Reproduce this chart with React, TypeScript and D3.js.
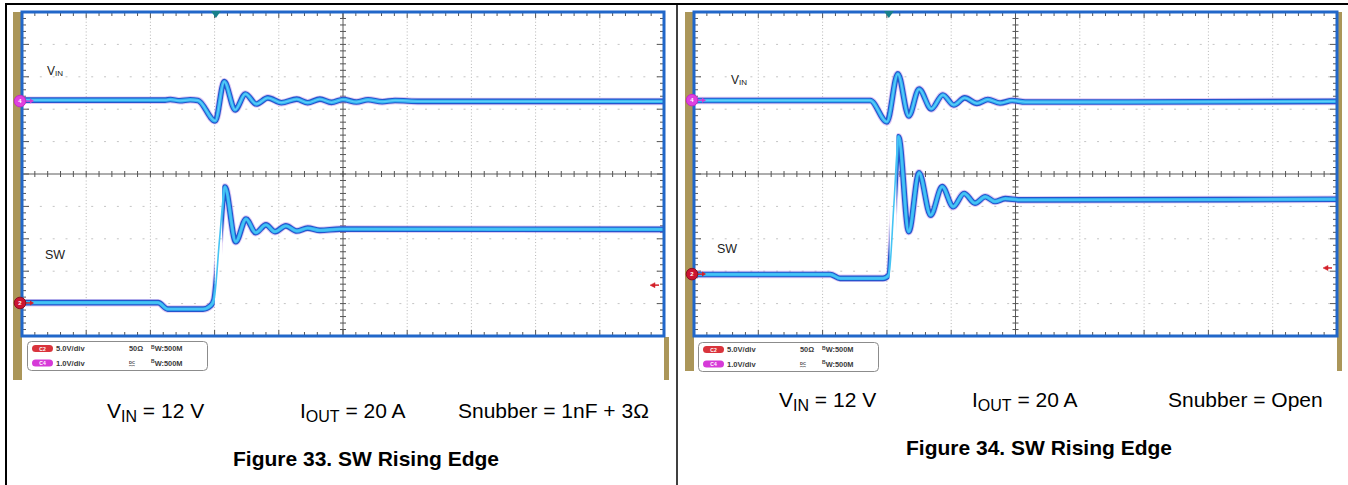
import React from "react";
import * as d3 from "d3";

// Time in horizontal divisions (0..10), amplitude in vertical divisions (centre = 0, range ±5)
const fig33VinT = [0, 2.23, 2.31, 2.46, 2.62, 2.74, 3.01, 3.15, 3.32, 3.48, 3.65, 3.83, 4.04, 4.28, 4.45, 4.64, 4.82, 5.0, 5.21, 5.39, 5.61, 5.81, 6.2, 10];
const fig33VinV = [2.28, 2.28, 2.3, 2.26, 2.29, 2.27, 1.64, 2.85, 1.98, 2.47, 2.16, 2.35, 2.2, 2.31, 2.2, 2.31, 2.21, 2.3, 2.22, 2.29, 2.23, 2.27, 2.24, 2.24];
const fig33SwT = [0, 2.12, 2.27, 2.82, 2.94, 2.99, 3.08, 3.16, 3.33, 3.49, 3.64, 3.8, 3.94, 4.11, 4.28, 4.45, 4.64, 4.95, 10];
const fig33SwV = [-3.97, -3.97, -4.17, -4.17, -4.06, -3.89, -1.95, -0.4, -2.09, -1.39, -1.81, -1.57, -1.78, -1.6, -1.76, -1.67, -1.74, -1.7, -1.71];

const fig34VinT = [0, 2.74, 3.0, 3.17, 3.34, 3.5, 3.69, 3.87, 4.04, 4.21, 4.4, 4.57, 4.76, 4.95, 5.15, 10];
const fig34VinV = [2.27, 2.27, 1.61, 3.09, 1.79, 2.62, 2.01, 2.44, 2.13, 2.35, 2.18, 2.3, 2.19, 2.27, 2.22, 2.24];
const fig34SwT = [0, 2.12, 2.27, 2.94, 3.03, 3.11, 3.18, 3.34, 3.5, 3.68, 3.86, 4.03, 4.2, 4.37, 4.53, 4.68, 4.84, 5.07, 10];
const fig34SwV = [-3.1, -3.1, -3.22, -3.22, -3.12, -0.9, 1.15, -1.78, 0.04, -1.27, -0.39, -1.01, -0.6, -0.9, -0.7, -0.85, -0.76, -0.8, -0.78];

const channelScales = ["5.0V/div", "1.0V/div"];
const channelNames = ["C2", "C4"];
const captions33 = ["12 V", "20 A", "Snubber = 1nF + 3Ω"];
const captions34 = ["12 V", "20 A", "Snubber = Open"];
const titles = ["Figure 33. SW Rising Edge", "Figure 34. SW Rising Edge"];

const FONT = "'Liberation Sans', Arial, Helvetica, sans-serif";
const zip = (t: number[], v: number[]) => t.map((d, i) => [d, v[i]] as [number, number]);

function Scope(props: any) {
  const { id, x0, x1, y0, y1, vin, sw, trig, band, vinLab, swLab, gnd, c4, c2 } = props;
  const x = d3.scaleLinear().domain([0, 10]).range([x0, x1]);
  const y = d3.scaleLinear().domain([-5, 5]).range([y1, y0]);
  const line = d3
    .line<[number, number]>()
    .x((d) => x(d[0]))
    .y((d) => y(d[1]))
    .curve(d3.curveMonotoneX);
  const minorX = d3.range(1, 50).map((i) => i / 5);
  const minorY = d3.range(1, 50).map((i) => -5 + i / 5);
  const majX = d3.range(1, 10);
  const majY = d3.range(-4, 5);
  const tick = "#555";
  const thick = (path: string, clip?: string) => (
    <g clipPath={clip ? `url(#${clip})` : `url(#${id}-all)`}>
      <path d={path} fill="none" stroke="#b784e6" strokeOpacity={0.45} strokeWidth={7.5} strokeLinejoin="round" />
      <path d={path} fill="none" stroke="#2356cc" strokeWidth={5.6} strokeLinejoin="round" />
      <path d={path} fill="none" stroke="#35b4f2" strokeWidth={3.4} strokeLinejoin="round" />
      <path d={path} fill="none" stroke="#5fd0f8" strokeWidth={1.2} strokeLinejoin="round" />
    </g>
  );
  const vinPath = line(vin) || "";
  const swPath = line(sw) || "";
  return (
    <g>
      <defs>
        <clipPath id={`${id}-all`}>
          <rect x={x0} y={y0} width={x1 - x0} height={y1 - y0} />
        </clipPath>
        <clipPath id={`${id}-sw`}>
          <rect x={x0} y={y0} width={x(band[0]) - x0} height={y1 - y0} />
          <rect x={x(band[1])} y={y0} width={x1 - x(band[1])} height={y1 - y0} />
        </clipPath>
      </defs>
      <rect x={x0} y={y0} width={x1 - x0} height={y1 - y0} fill="#fff" />
      {majX.filter((d) => d !== 5).map((d) => (
        <line key={"gx" + d} x1={x(d)} x2={x(d)} y1={y0} y2={y1} stroke="#b5b5b5" strokeWidth={1} strokeDasharray="1 2.24" />
      ))}
      {majY.filter((d) => d !== 0).map((d) => (
        <line key={"gy" + d} x1={x0} x2={x1} y1={y(d)} y2={y(d)} stroke="#c4c4c4" strokeWidth={1} strokeDasharray="2 10.84" strokeDashoffset={-5} />
      ))}
      <line x1={x0} x2={x1} y1={y(0)} y2={y(0)} stroke="#5a5a5a" strokeWidth={1} />
      <line x1={x(5)} x2={x(5)} y1={y0} y2={y1} stroke="#5a5a5a" strokeWidth={1} />
      {minorX.map((d) => (
        <g key={"tx" + d}>
          <line x1={x(d)} x2={x(d)} y1={y(0) - 3} y2={y(0) + 3} stroke={tick} />
          <line x1={x(d)} x2={x(d)} y1={y0} y2={y0 + (Number.isInteger(d) ? 6 : 4)} stroke={tick} />
          <line x1={x(d)} x2={x(d)} y1={y1} y2={y1 - (Number.isInteger(d) ? 6 : 4)} stroke={tick} />
        </g>
      ))}
      {minorY.map((d) => (
        <g key={"ty" + d}>
          <line x1={x(5) - 3} x2={x(5) + 3} y1={y(d)} y2={y(d)} stroke={tick} />
          <line x1={x0} x2={x0 + (Math.abs(d - Math.round(d)) < 1e-6 ? 7 : 4)} y1={y(d)} y2={y(d)} stroke={tick} />
          <line x1={x1} x2={x1 - (Math.abs(d - Math.round(d)) < 1e-6 ? 7 : 4)} y1={y(d)} y2={y(d)} stroke={tick} />
        </g>
      ))}
      {thick(vinPath)}
      {thick(swPath, `${id}-sw`)}
      <g clipPath={`url(#${id}-all)`}>
        <path d={swPath} fill="none" stroke="#45c4f4" strokeWidth={1.6} />
      </g>
      <rect x={x0} y={y0} width={x1 - x0} height={y1 - y0} fill="none" stroke="#2167c9" strokeWidth={3} />
      {/* trigger marker */}
      <polygon points={`${x(trig) - 5},${y0 - 1} ${x(trig) + 5},${y0 - 1} ${x(trig)},${y0 + 6}`} fill="#17808a" />
      {/* ground reference arrow */}
      <g fill="#d3202a" stroke="#d3202a">
        <line x1={x1 - 5} x2={x1 - 11} y1={y(gnd)} y2={y(gnd)} strokeWidth={1.5} />
        <polygon points={`${x1 - 14},${y(gnd)} ${x1 - 9},${y(gnd) - 2.5} ${x1 - 9},${y(gnd) + 2.5}`} strokeWidth={0.5} />
      </g>
      {/* channel markers */}
      <g>
        <line x1={x0 + 2} x2={x0 + 9} y1={y(c4)} y2={y(c4)} stroke="#d43ad6" strokeWidth={1.5} />
        <polygon points={`${x0 + 12},${y(c4)} ${x0 + 8},${y(c4) - 2.5} ${x0 + 8},${y(c4) + 2.5}`} fill="#d43ad6" />
        <circle cx={x0 - 2} cy={y(c4)} r={5.8} fill="#e040e0" stroke="#c22cc4" strokeWidth={1} />
        <text x={x0 - 2} y={y(c4) + 2.2} fontSize={6} fill="#fff" textAnchor="middle" fontFamily={FONT} fontWeight="bold">4</text>
        <line x1={x0 + 2} x2={x0 + 9} y1={y(c2)} y2={y(c2)} stroke="#d3202a" strokeWidth={1.5} />
        <polygon points={`${x0 + 12},${y(c2)} ${x0 + 8},${y(c2) - 2.5} ${x0 + 8},${y(c2) + 2.5}`} fill="#d3202a" />
        <circle cx={x0 - 2} cy={y(c2)} r={5.8} fill="#cc1430" stroke="#8a1020" strokeWidth={1} />
        <text x={x0 - 2} y={y(c2) + 2.2} fontSize={6} fill="#fff" textAnchor="middle" fontFamily={FONT} fontWeight="bold">2</text>
      </g>
      <text x={vinLab[0]} y={vinLab[1]} fontSize={12} fontFamily={FONT} fill="#222">
        V<tspan fontSize={8} dy={1}>IN</tspan>
      </text>
      <text x={swLab[0]} y={swLab[1]} fontSize={12.5} fontFamily={FONT} fill="#222">SW</text>
    </g>
  );
}

function Legend({ x, y }: { x: number; y: number }) {
  const rows = [0, 1];
  const pill = ["#d9343c", "#d63ad8"];
  return (
    <g transform={`translate(${x},${y})`} fontFamily={FONT}>
      <rect x={0.5} y={0.5} width={180} height={29} rx={4} fill="#fff" stroke="#8c8c8c" strokeWidth={1} />
      {rows.map((r) => (
        <g key={r} transform={`translate(0,${r * 14.4})`}>
          <rect x={5} y={4} width={21} height={7} rx={3.5} fill={pill[r]} />
          <text x={15.5} y={9.6} fontSize={5} fill="#fff" textAnchor="middle" fontWeight="bold">{channelNames[r]}</text>
          <text x={29} y={10.3} fontSize={7.6} fontWeight="bold" fill="#3a3a3a">{channelScales[r]}</text>
          <text x={124} y={10.3} fontSize={7.4} fontWeight="bold" fill="#3a3a3a">
            <tspan fontSize={5} dy={-2.5}>B</tspan>
            <tspan dy={2.5}>W:500M</tspan>
          </text>
        </g>
      ))}
      <text x={102} y={10.3} fontSize={7.4} fontWeight="bold" fill="#3a3a3a">50Ω</text>
      <text x={102} y={22.6} fontSize={4.2} fontWeight="bold" fill="#3a3a3a">DC</text>
      <text x={102} y={26.2} fontSize={3.4} fontWeight="bold" fill="#3a3a3a">ꟷꟷ</text>
    </g>
  );
}

function Captions(props: any) {
  const { vx, ix, sx, by, fx, fy, caps, title } = props;
  return (
    <g fontFamily={FONT} fill="#000" style={{ whiteSpace: "pre" }}>
      <text x={vx} y={by} fontSize={21}>
        V<tspan fontSize={16} dy={3.5}>IN</tspan>
        <tspan fontSize={21} dy={-3.5}>{" = " + caps[0]}</tspan>
      </text>
      <text x={ix} y={by} fontSize={21}>
        I<tspan fontSize={16} dy={3.5}>OUT</tspan>
        <tspan fontSize={21} dy={-3.5}>{" = " + caps[1]}</tspan>
      </text>
      <text x={sx} y={by} fontSize={21}>{caps[2]}</text>
      <text x={fx} y={fy} fontSize={21} fontWeight="bold">{title}</text>
    </g>
  );
}

export default function App() {
  const gold = "#ab9659";
  return (
    <svg width={1348} height={485} style={{ position: "absolute", left: 0, top: 0, background: "#fff" }}>
      <rect width={1348} height={485} fill="#fff" />
      {/* Figure 33 */}
      <rect x={13} y={12} width={9} height={368} fill={gold} />
      <rect x={664} y={337} width={5} height={43} fill={gold} />
      <Scope
        id="f33"
        x0={22}
        x1={664}
        y0={12}
        y1={336}
        vin={zip(fig33VinT, fig33VinV)}
        sw={zip(fig33SwT, fig33SwV)}
        trig={3.02}
        band={[3.0, 3.12]}
        vinLab={[47, 74.5]}
        swLab={[45, 259]}
        gnd={-3.43}
        c4={2.25}
        c2={-3.98}
      />
      <Legend x={27} y={341} />
      <Captions vx={107} ix={300} sx={458} by={418} fx={233} fy={466} caps={captions33} title={titles[0]} />

      {/* Figure 34 */}
      <rect x={685} y={12} width={9} height={359} fill={gold} />
      <rect x={1337} y={12} width={5} height={359} fill={gold} />
      <Scope
        id="f34"
        x0={694}
        x1={1337}
        y0={12}
        y1={336}
        vin={zip(fig34VinT, fig34VinV)}
        sw={zip(fig34SwT, fig34SwV)}
        trig={3.03}
        band={[3.04, 3.15]}
        vinLab={[731, 84]}
        swLab={[717, 253]}
        gnd={-2.9}
        c4={2.28}
        c2={-3.09}
      />
      <Legend x={698} y={342} />
      <Captions vx={779} ix={972} sx={1168} by={407} fx={906} fy={455} caps={captions34} title={titles[1]} />

      {/* figure frames */}
      <path d="M6,485 V4 H1348" fill="none" stroke="#000" strokeWidth={2} />
      <line x1={677} x2={677} y1={4} y2={485} stroke="#000" strokeWidth={1.5} />
    </svg>
  );
}
